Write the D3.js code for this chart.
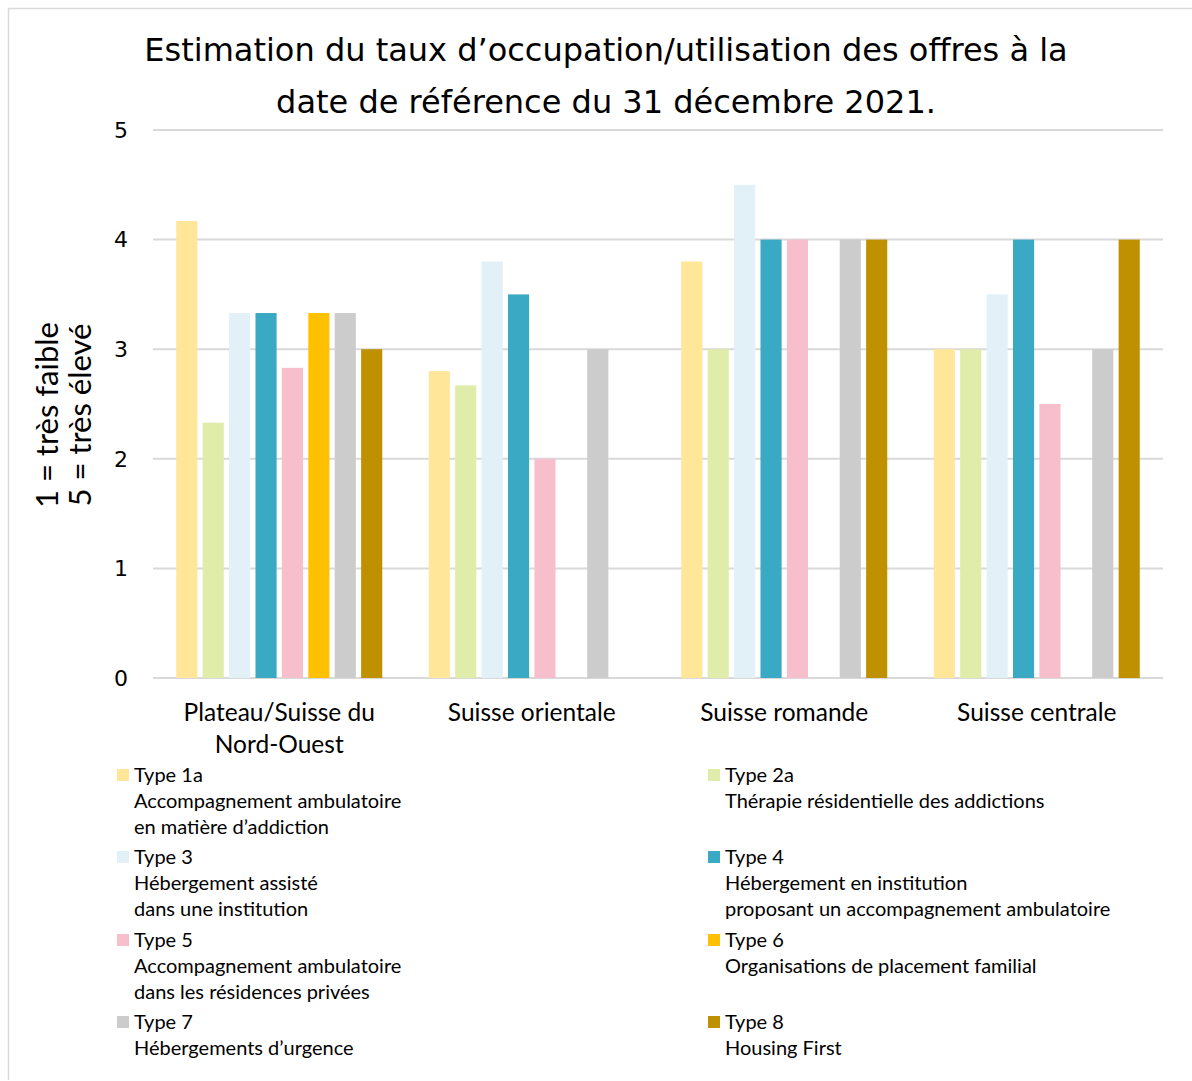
<!DOCTYPE html>
<html>
<head>
<meta charset="utf-8">
<script src="https://cdn.jsdelivr.net/npm/d3@7"></script>
<style>
  body { margin: 0; background: #fff; }
  .title { font-family: 'DejaVu Sans', sans-serif; font-size: 32px; fill: #000; }
  .tick-label { font-family: 'DejaVu Sans', sans-serif; font-size: 22px; fill: #000; }
  .cat { font-family: Lato, sans-serif; font-size: 24.5px; fill: #000; }
  .ytitle { font-family: Lato, sans-serif; font-size: 31px; fill: #000; }
  .leg { font-family: Lato, sans-serif; font-size: 20px; fill: #000; }
</style>
</head>
<body>
<script>
// regions along x, one bar per type in each
const regions = [
  ["Plateau/Suisse du", "Nord-Ouest"],
  ["Suisse orientale"],
  ["Suisse romande"],
  ["Suisse centrale"]
];
const types = ["Type 1a", "Type 2a", "Type 3", "Type 4", "Type 5", "Type 6", "Type 7", "Type 8"];
const typeDesc = [
  ["Accompagnement ambulatoire", "en matière d\u2019addiction"],
  ["Thérapie résidentielle des addictions"],
  ["Hébergement assisté", "dans une institution"],
  ["Hébergement en institution", "proposant un accompagnement ambulatoire"],
  ["Accompagnement ambulatoire", "dans les résidences privées"],
  ["Organisations de placement familial"],
  ["Hébergements d\u2019urgence"],
  ["Housing First"]
];
const colors = ["#FFE699", "#E0ECA9", "#E2F1F7", "#3AA9C3", "#F7BFCC", "#FFC000", "#CCCCCC", "#BF9000"];

// values per region, null = no offer
const values = [
  [4.17, 2.33, 3.33, 3.33, 2.83, 3.33, 3.33, 3.0],
  [2.8, 2.67, 3.8, 3.5, 2.0, null, 3.0, null],
  [3.8, 3.0, 4.5, 4.0, 4.0, null, 4.0, 4.0],
  [3.0, 3.0, 3.5, 4.0, 2.5, null, 3.0, 4.0]
];
const yTicks = [0, 1, 2, 3, 4, 5];
const titleLines = [
  "Estimation du taux d\u2019occupation/utilisation des offres à la",
  "date de référence du 31 décembre 2021."
];
const yTitle = ["1 = très faible", "5 = très élevé"];

const W = 1192, H = 1081;
const svg = d3.select("body").append("svg").attr("width", W).attr("height", H);

// frame (only left + top edges show)
svg.append("line").attr("x1", 8.5).attr("x2", 8.5).attr("y1", 8).attr("y2", 1080)
  .attr("stroke", "#D9D9D9").attr("stroke-width", 1.5);
svg.append("line").attr("x1", 8).attr("x2", W).attr("y1", 8.5).attr("y2", 8.5)
  .attr("stroke", "#D9D9D9").attr("stroke-width", 1.5);

const plot = { left: 153, right: 1163, top: 130, bottom: 678 };

const y = d3.scaleLinear().domain([0, 5]).range([plot.bottom, plot.top]);
const x0 = d3.scaleBand().domain(d3.range(regions.length)).range([plot.left, plot.right]);
const x1 = d3.scaleBand().domain(types).range([0, x0.bandwidth()])
  .paddingInner(0.2).paddingOuter(0.88);

// title
svg.append("g").selectAll("text").data(titleLines).join("text")
  .attr("class", "title")
  .attr("x", 606).attr("y", (d, i) => 61 + i * 52)
  .attr("text-anchor", "middle").text(d => d);

// grid
svg.append("g").selectAll("line").data(yTicks).join("line")
  .attr("x1", plot.left).attr("x2", plot.right)
  .attr("y1", d => y(d)).attr("y2", d => y(d))
  .attr("stroke", "#D9D9D9").attr("stroke-width", 2);

svg.append("g").selectAll("text").data(yTicks).join("text")
  .attr("class", "tick-label")
  .attr("x", 128).attr("y", d => y(d)).attr("dy", "0.35em")
  .attr("text-anchor", "end").text(d => d);

// y title
svg.append("g").attr("transform", "translate(0,415) rotate(-90)")
  .selectAll("text").data(yTitle).join("text")
  .attr("class", "ytitle")
  .attr("x", 0).attr("y", (d, i) => 58 + i * 33)
  .attr("text-anchor", "middle").text(d => d);

// bars
const groups = svg.append("g").selectAll("g").data(values).join("g")
  .attr("transform", (d, i) => `translate(${x0(i)},0)`);

groups.selectAll("rect")
  .data(d => d.map((v, j) => ({ v, j })).filter(e => e.v != null))
  .join("rect")
  .attr("x", e => x1(types[e.j]))
  .attr("width", x1.bandwidth())
  .attr("y", e => y(e.v))
  .attr("height", e => y(0) - y(e.v))
  .attr("fill", e => colors[e.j]);

// category labels
svg.append("g").selectAll("g").data(regions).join("g")
  .attr("transform", (d, i) => `translate(${x0(i) + x0.bandwidth() / 2},0)`)
  .selectAll("text").data(d => d).join("text")
  .attr("class", "cat")
  .attr("x", 0).attr("y", (d, i) => 721 + i * 32)
  .attr("text-anchor", "middle").text(d => d);

// legend, two columns
const rowTop = [775, 857, 940, 1022];
const leg = svg.append("g").selectAll("g").data(types).join("g")
  .attr("transform", (d, i) => `translate(${i % 2 ? 708 : 117},${rowTop[Math.floor(i / 2)]})`);

leg.append("rect").attr("x", 0).attr("y", -6).attr("width", 12).attr("height", 12)
  .attr("fill", (d, i) => colors[i]);

leg.selectAll("text")
  .data((d, i) => [d].concat(typeDesc[i]))
  .join("text")
  .attr("class", "leg")
  .attr("x", 17).attr("y", (d, i) => i * 26).attr("dy", "0.35em")
  .text(d => d);
</script>
</body>
</html>
